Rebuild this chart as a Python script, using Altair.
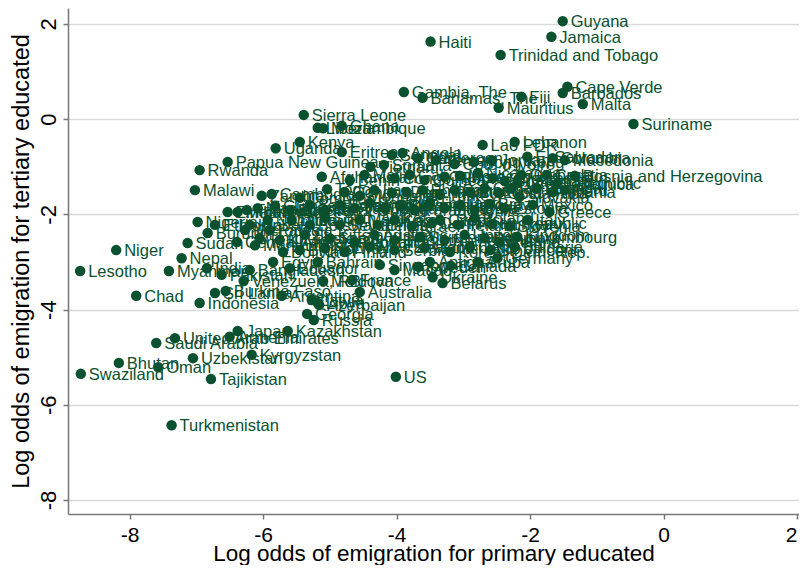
import altair as alt
import pandas as pd

names = [
    "Guyana", "Jamaica", "Haiti", "Trinidad and Tobago", "Gambia, The", "Bahamas, The", "Fiji",
    "Cape Verde", "Barbados", "Mauritius", "Malta", "Suriname", "Sierra Leone", "Liberia",
    "Mozambique", "Ghana", "Kenya", "Uganda", "Eritrea", "Papua New Guinea", "Rwanda", "Vietnam",
    "Senegal", "Angola", "Afghanistan", "Malawi", "Togo", "Zambia", "Lao PDR", "Lebanon",
    "El Salvador", "Macedonia", "Hong Kong", "Bosnia and Herzegovina", "Czech Republic",
    "Portugal", "Slovakia", "Mexico", "Dominican Republic", "Luxembourg", "Bulgaria", "Germany",
    "Canada", "Sweden", "Ukraine", "Belarus", "France", "Moldova", "Venezuela, RB", "Australia",
    "Azerbaijan", "Georgia", "Russia", "Kazakhstan", "Argentina", "Latvia", "Libya", "Sri Lanka",
    "Burkina Faso", "Indonesia", "Japan", "Armenia", "United Arab Emirates", "Saudi Arabia",
    "Uzbekistan", "Kyrgyzstan", "Bhutan", "Oman", "Swaziland", "Tajikistan", "Turkmenistan", "US",
    "Niger", "Lesotho", "Myanmar", "Chad", "Sudan", "Nepal", "Burundi", "Ethiopia", "Nigeria",
    "India", "Bangladesh", "Pakistan", "Bolivia", "Egypt", "Bahrain", "Ecuador",
    "Central African Republic", "Zimbabwe", "Mauritania", "Tanzania", "Madagascar", "Cambodia",
    "Djibouti", "Guinea-Bissau", "Cameroon", "Yemen", "Cote d'Ivoire", "Jordan", "Colombia",
    "Somalia", "Benin", "Mali", "Congo, Rep.", "Gabon", "Guinea", "Tunisia", "Morocco",
    "Nicaragua", "Honduras", "Guatemala", "Grenada", "Croatia", "Dominica", "Comoros",
    "Congo, Dem. Rep.", "Mongolia", "Iran", "Syria", "Algeria", "Philippines", "Turkey", "Panama",
    "St. Lucia", "Cuba", "Costa Rica", "Romania", "Albania", "Peru", "Equatorial Guinea",
    "Sao Tome and Principe", "Iraq", "Solomon Islands", "Vanuatu", "Samoa", "Tonga", "Belize",
    "Paraguay", "Thailand", "Malaysia", "Uruguay", "Chile", "Brazil", "Estonia", "Greece",
    "Kiribati", "Namibia", "Botswana", "South Africa", "Seychelles", "Maldives", "China",
    "Korea, Rep.", "Israel", "Cyprus", "Ireland", "Poland", "Hungary", "Slovenia", "Italy",
    "Timor-Leste", "Kuwait", "St. Kitts and Nevis", "Spain", "Lithuania", "Austria", "Belgium",
    "Switzerland", "Netherlands", "United Kingdom", "Denmark", "Iceland", "Brunei", "Norway",
    "Finland", "New Zealand", "Serbia", "Montenegro", "Korea, Dem. Rep.", "Qatar",
    "St. Vincent", "Singapore", "Macao", "Antigua", "Aruba", "Micronesia",
    "Marshall Islands", "Palau",
]

primary = [
    -1.51, -1.68, -3.49, -2.44, -3.89, -3.61, -2.13,
    -1.44, -1.51, -2.47, -1.21, -0.45, -5.39, -5.18,
    -5.10, -4.82, -5.45, -5.81, -4.82, -6.53, -6.95, -4.39,
    -4.07, -3.91, -5.12, -7.02, -5.04, -6.02, -2.71, -2.23,
    -2.04, -1.48, -2.84, -1.33, -2.19,
    -1.90, -2.16, -1.96, -3.47, -2.19, -2.23, -2.49,
    -3.19, -3.67, -3.46, -3.31, -4.67, -5.10, -6.29, -4.55,
    -5.16, -5.34, -5.24, -5.63, -5.72, -5.27, -5.18, -6.72,
    -6.56, -6.95, -6.38, -6.50, -7.32, -7.60,
    -7.05, -6.17, -8.16, -7.57, -8.73, -6.78, -7.37, -4.01,
    -8.20, -8.74, -7.41, -7.90, -7.13, -7.22, -6.83, -6.72, -6.98,
    -6.84, -6.20, -6.62, -5.70, -5.85, -5.18, -5.60,
    -6.39, -6.53, -6.38, -6.24, -6.08, -5.87,
    -5.57, -5.82, -3.68, -3.41, -3.13, -2.57, -1.66,
    -4.19, -4.70, -4.48, -4.03, -3.80, -3.58, -3.28, -3.05,
    -2.78, -2.56, -2.38, -2.13, -1.75, -1.59, -5.45,
    -4.78, -4.55, -4.33, -4.07, -3.85, -3.61, -3.35, -3.13,
    -2.90, -2.68, -2.46, -2.28, -1.66, -1.48, -5.60,
    -5.30, -5.07, -4.85, -4.63, -4.40, -4.18, -3.95,
    -3.73, -3.50, -3.28, -3.05, -2.83, -2.60, -2.38, -1.71,
    -6.20, -5.93, -5.30, -5.07, -4.85, -4.55, -4.28,
    -4.03, -3.77, -3.35, -3.08, -2.83, -2.57, -2.31, -2.04,
    -6.05, -5.75, -5.37, -5.00, -4.63, -4.33, -4.03,
    -3.65, -3.28, -2.98, -2.68, -2.46, -5.45, -5.07,
    -4.78, -4.40, -4.03, -3.58, -3.20, -2.90,
    -2.60, -4.25, -4.03, -3.50, -2.78, -6.27,
    -6.12, -5.90,
]

tertiary = [
    2.06, 1.73, 1.63, 1.35, 0.57, 0.45, 0.47,
    0.68, 0.55, 0.24, 0.32, -0.10, 0.09, -0.18,
    -0.19, -0.14, -0.48, -0.61, -0.69, -0.90, -1.07, -1.00,
    -0.75, -0.71, -1.21, -1.49, -1.47, -1.61, -0.54, -0.48,
    -0.79, -0.86, -0.90, -1.19, -1.34,
    -1.45, -1.63, -1.80, -2.18, -2.47, -2.68, -2.92,
    -3.08, -3.10, -3.32, -3.44, -3.38, -3.40, -3.40, -3.63,
    -3.90, -4.09, -4.22, -4.45, -3.71, -3.80, -3.86, -3.65,
    -3.61, -3.86, -4.45, -4.57, -4.60, -4.70,
    -5.02, -4.95, -5.12, -5.21, -5.35, -5.46, -6.43, -5.41,
    -2.75, -3.19, -3.19, -3.71, -2.60, -2.92, -2.39, -2.22, -2.16,
    -3.13, -3.17, -3.27, -2.79, -3.00, -3.00, -3.13,
    -2.58, -1.95, -1.95, -1.91, -1.87, -1.57,
    -2.12, -1.82, -0.82, -0.86, -0.94, -0.86, -0.82,
    -0.96, -1.28, -1.17, -1.24, -1.17, -1.28, -1.21, -1.19,
    -1.13, -1.24, -1.30, -1.17, -1.17, -1.36, -1.65,
    -1.53, -1.61, -1.49, -1.55, -1.53, -1.49, -1.59, -1.49,
    -1.53, -1.45, -1.55, -1.45, -1.53, -1.49, -1.91,
    -1.80, -1.91, -1.80, -1.87, -1.76, -1.87, -1.80,
    -1.91, -1.76, -1.87, -1.80, -1.91, -1.78, -1.87, -1.95,
    -2.22, -2.12, -2.22, -2.07, -2.22, -2.12, -2.22,
    -2.12, -2.25, -2.12, -2.22, -2.07, -2.20, -2.25, -2.12,
    -2.50, -2.54, -2.43, -2.50, -2.58, -2.43, -2.54,
    -2.47, -2.54, -2.43, -2.50, -2.58, -2.75, -2.71,
    -2.79, -2.68, -2.75, -2.71, -2.79, -2.68,
    -2.75, -3.06, -3.17, -3.00, -3.00, -2.33,
    -2.65, -2.33,
]

x_ticks = [-8, -6, -4, -2, 0, 2]
y_ticks = [-8, -6, -4, -2, 0, 2]

df = pd.DataFrame({"country": names, "primary": primary, "tertiary": tertiary})

GREEN = "#0a5130"
FONT = "Liberation Sans"

x_enc = alt.X(
    "primary:Q",
    scale=alt.Scale(domain=[-8.922, 2.03], nice=False, zero=False),
    axis=alt.Axis(
        values=x_ticks, title="Log odds of emigration for primary educated", grid=False,
        labelExpr="'' + datum.value",
        labelAlign=alt.condition("datum.value == 2", alt.value("right"), alt.value("center")),
        labelFontSize=21, titleFontSize=22.5, labelPadding=5, titlePadding=-3,
        tickSize=5, domainColor="#777777", tickColor="#777777", domainWidth=1.5, tickWidth=1.5,
        labelColor="#000000", titleColor="#000000", labelFont=FONT, titleFont=FONT,
        titleFontWeight="normal",
    ),
)
y_enc = alt.Y(
    "tertiary:Q",
    scale=alt.Scale(domain=[-8.294, 2.336], nice=False, zero=False),
    axis=alt.Axis(
        values=y_ticks, title="Log odds of emigration for tertiary educated", grid=True,
        gridColor="#d9d9d9", gridWidth=1.6,
        labelExpr="'' + datum.value",
        labelFontSize=22, titleFontSize=23.5, labelPadding=3, titlePadding=4,
        labelAngle=270, labelAlign="center", labelBaseline="bottom",
        tickSize=5, domainColor="#777777", tickColor="#777777", domainWidth=1.5, tickWidth=1.5,
        labelColor="#000000", titleColor="#000000", labelFont=FONT, titleFont=FONT,
        titleFontWeight="normal",
    ),
)

points = alt.Chart(df).mark_circle(size=110, opacity=1, color=GREEN).encode(x=x_enc, y=y_enc)
labels = alt.Chart(df).mark_text(
    align="left", baseline="middle", dx=8, dy=1, fontSize=16.5, font=FONT, color=GREEN
).encode(x="primary:Q", y="tertiary:Q", text="country:N")

chart = alt.layer(points, labels).properties(
    width=731, height=506,
    autosize=alt.AutoSizeParams(type="none"),
    padding={"left": 60, "top": 0, "right": 0, "bottom": 51},
).configure_view(stroke=None)

chart.save("out.html", embed_options={"renderer": "svg", "actions": False})
